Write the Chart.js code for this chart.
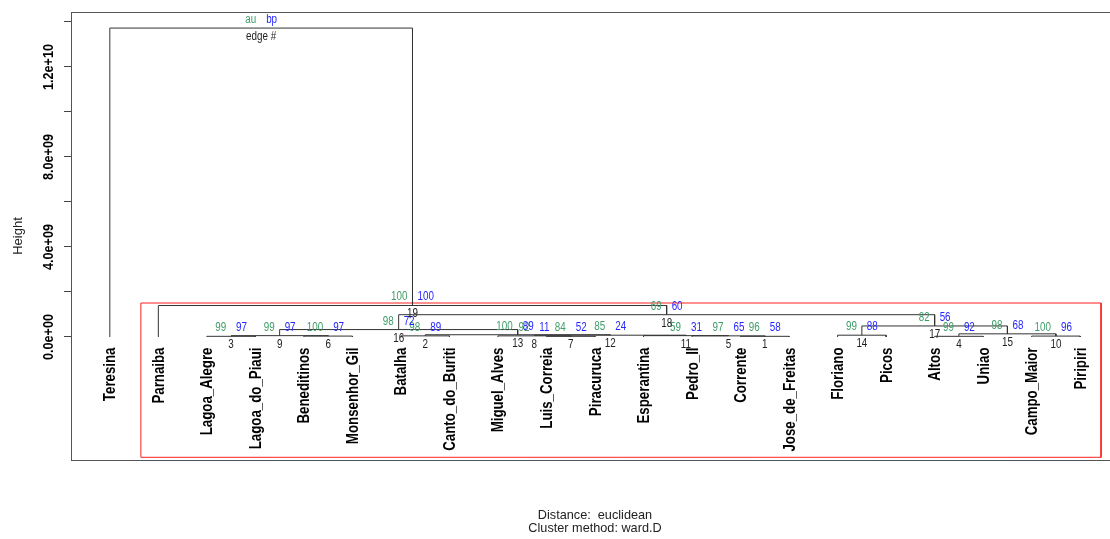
<!DOCTYPE html>
<html>
<head>
<meta charset="utf-8">
<script src="https://cdn.jsdelivr.net/npm/chart.js@4.4.1/dist/chart.umd.min.js"></script>
<style>
  html, body { margin: 0; padding: 0; background: #fff; overflow: hidden; }
  #wrap { width: 1130px; height: 539px; }
</style>
</head>
<body>
<div id="wrap"><canvas id="dendro" width="1130" height="539"></canvas></div>
<script>
// leaves in plotting order
const leaves = ['Teresina', 'Parnaiba', 'Lagoa_Alegre', 'Lagoa_do_Piaui', 'Beneditinos',
  'Monsenhor_Gil', 'Batalha', 'Canto_do_Buriti', 'Miguel_Alves', 'Luis_Correia',
  'Piracuruca', 'Esperantina', 'Pedro_II', 'Corrente', 'Jose_de_Freitas', 'Floriano',
  'Picos', 'Altos', 'Uniao', 'Campo_Maior', 'Piripiri'];

// merges (edge # = position + 1). strings = leaves, numbers = earlier edge
const mergeLeft  = ['Corrente', 'Batalha', 'Lagoa_Alegre', 'Altos', 'Pedro_II', 'Beneditinos',
  'Luis_Correia', 'Miguel_Alves', 3, 'Campo_Maior', 'Esperantina', 8, 2, 'Floriano', 4, 9, 14, 16,
  'Parnaiba', 'Teresina'];
const mergeRight = ['Jose_de_Freitas', 'Canto_do_Buriti', 'Lagoa_do_Piaui', 'Uniao', 1, 'Monsenhor_Gil',
  'Piracuruca', 7, 6, 'Piripiri', 5, 11, 12, 'Picos', 10, 13, 15, 17, 18, 19];
const mergeHeight = [0.03e9, 0.05e9, 0.03e9, 0.03e9, 0.05e9, 0.04e9, 0.03e9, 0.05e9, 0.06e9, 0.04e9,
  0.06e9, 0.08e9, 0.10e9, 0.08e9, 0.14e9, 0.33e9, 0.49e9, 0.99e9, 1.40e9, 13.73e9];

// approximately unbiased / bootstrap probabilities (%)
const auValues = [96, 98, 99, 99, 97, 100, 84, 92, 99, 100, 59, 85, 100, 99, 98, 98, 82, 69, 100, 'au'];
const bpValues = [58, 89, 97, 92, 65, 97, 52, 11, 97, 96, 31, 24, 89, 88, 68, 72, 56, 60, 100, 'bp'];

const yTicks = [0, 2e9, 4e9, 6e9, 8e9, 1e10, 1.2e10, 1.4e10];
const yTickLabels = ['0.0e+00', '', '4.0e+09', '', '8.0e+09', '', '1.2e+10', ''];

const highlightEdge = 19;   // cluster boxed by pvrect (au >= 95)

const yMin = -5.467e9, yMax = 14.444e9;
const auColor = '#3f9d69', bpColor = '#2626ff', edgeColor = '#222';

// node coordinates
const nodeX = [];
function posOf(ref) { return typeof ref === 'string' ? leaves.indexOf(ref) + 1 : nodeX[ref - 1]; }
function hOf(ref) { return typeof ref === 'string' ? 0 : mergeHeight[ref - 1]; }
mergeLeft.forEach((l, i) => { nodeX[i] = (posOf(l) + posOf(mergeRight[i])) / 2; });

function membersOf(ref) {
  if (typeof ref === 'string') return [leaves.indexOf(ref) + 1];
  return membersOf(mergeLeft[ref - 1]).concat(membersOf(mergeRight[ref - 1]));
}

const datasets = mergeLeft.map((l, i) => {
  const r = mergeRight[i];
  return {
    data: [
      { x: posOf(l), y: hOf(l) },
      { x: posOf(l), y: mergeHeight[i] },
      { x: posOf(r), y: mergeHeight[i] },
      { x: posOf(r), y: hOf(r) }
    ],
    showLine: true, borderColor: '#333', borderWidth: 1, pointRadius: 0, fill: false
  };
});

// red rectangle around the significant cluster
const mem = membersOf(highlightEdge);
const rl = Math.min(...mem) - 0.36, rr = Math.max(...mem) + 0.43;
const rt = mergeHeight[highlightEdge - 1] + 0.11e9, rb = yMin + 0.12e9;
datasets.push({
  data: [{ x: rl, y: rb }, { x: rl, y: rt }, { x: rr, y: rt }, { x: rr, y: rb }, { x: rl, y: rb }],
  showLine: true, borderColor: '#ff2020', borderWidth: 1, pointRadius: 0, fill: false
});

function put(ctx, str, x, y, o) {
  ctx.save();
  ctx.translate(x, y);
  if (o.rot) ctx.rotate(o.rot);
  ctx.scale(o.sx || 1, 1);
  ctx.font = o.font;
  ctx.fillStyle = o.color || '#000';
  ctx.textAlign = o.align || 'left';
  ctx.textBaseline = 'alphabetic';
  ctx.fillText(str, 0, 0);
  ctx.restore();
}

const FONT = '"Liberation Sans", Arial, sans-serif';

const textPlugin = {
  id: 'pvText',
  afterDraw(chart) {
    const ctx = chart.ctx;
    const xs = chart.scales.x, ys = chart.scales.y;
    const a = chart.chartArea;

    ctx.save();
    ctx.strokeStyle = '#555';
    ctx.lineWidth = 1;
    ctx.strokeRect(a.left + 0.5, a.top + 0.5, a.right - a.left, a.bottom - a.top);
    ctx.restore();

    // y tick labels
    yTicks.forEach((v, i) => {
      if (!yTickLabels[i]) return;
      put(ctx, yTickLabels[i], 52.5, ys.getPixelForValue(v),
        { rot: -Math.PI / 2, align: 'center', font: 'bold 15px ' + FONT, sx: 0.84 });
    });
    put(ctx, 'Height', 21.5, (a.top + a.bottom) / 2,
      { rot: -Math.PI / 2, align: 'center', font: '13px ' + FONT, color: '#222' });

    // leaf labels
    const y0 = ys.getPixelForValue(0);
    leaves.forEach((name, i) => {
      put(ctx, name, xs.getPixelForValue(i + 1) + 5.5, y0 + 10.5,
        { rot: -Math.PI / 2, align: 'right', font: 'bold 16px ' + FONT, sx: 0.83 });
    });

    // au / bp / edge #
    nodeX.forEach((nx, i) => {
      const px = xs.getPixelForValue(nx), py = ys.getPixelForValue(mergeHeight[i]);
      const last = i === nodeX.length - 1;
      put(ctx, String(auValues[i]), px - 5, py - 5, { align: 'right', font: '12px ' + FONT, color: auColor, sx: 0.82 });
      put(ctx, String(bpValues[i]), px + 5, py - 5, { align: 'left', font: '12px ' + FONT, color: bpColor, sx: 0.82 });
      put(ctx, last ? 'edge #' : String(i + 1), px, py + 12, { align: 'center', font: '12px ' + FONT, color: edgeColor, sx: 0.82 });
    });

    const cx = (a.left + a.right) / 2;
    put(ctx, 'Distance:  euclidean', cx, 519, { align: 'center', font: '12.7px ' + FONT, color: '#222' });
    put(ctx, 'Cluster method: ward.D', cx, 532, { align: 'center', font: '12.7px ' + FONT, color: '#222' });
  }
};

new Chart(document.getElementById('dendro'), {
  type: 'scatter',
  data: { datasets: datasets },
  options: {
    responsive: false,
    animation: false,
    layout: { padding: { top: 12, right: 11, bottom: 79, left: 0 } },
    plugins: { legend: { display: false }, tooltip: { enabled: false } },
    scales: {
      x: { type: 'linear', min: 0.2, max: 21.8, display: false },
      y: {
        type: 'linear', min: yMin, max: yMax,
        afterBuildTicks: s => { s.ticks = yTicks.map(v => ({ value: v })); },
        afterFit: s => { s.width = 71; },
        grid: { drawOnChartArea: false, drawTicks: true, tickLength: 7, color: '#444' },
        border: { display: true, color: '#444' },
        ticks: { display: false }
      }
    }
  },
  plugins: [textPlugin]
});
</script>
</body>
</html>
